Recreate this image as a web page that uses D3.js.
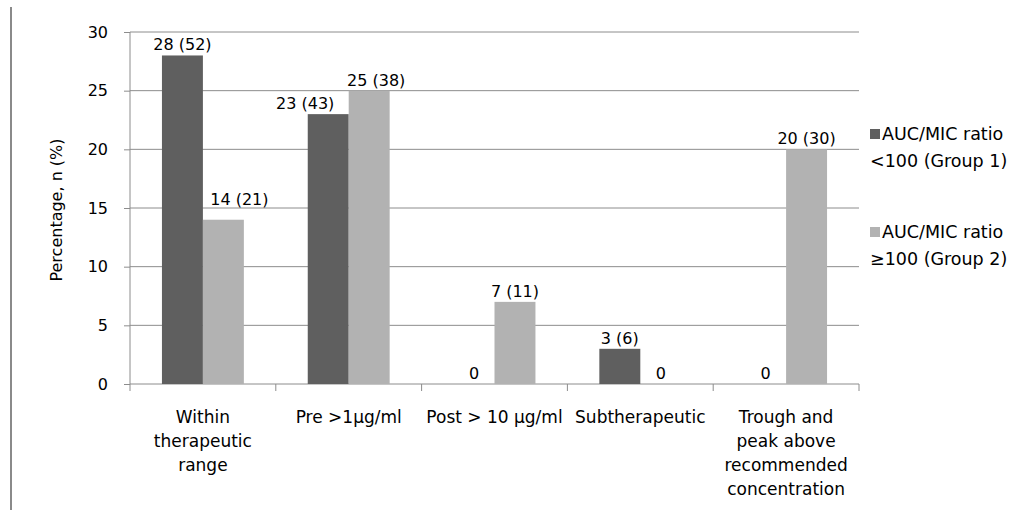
<!DOCTYPE html>
<html><head><meta charset="utf-8">
<script src="https://cdn.jsdelivr.net/npm/d3@7"></script>
<style>body{margin:0;background:#fff}svg text{font-family:"DejaVu Sans",sans-serif;fill:#000}</style>
</head><body><svg id="c" width="1022" height="515"></svg>
<script>
const categories = [["Within","therapeutic","range"],["Pre >1µg/ml"],["Post > 10 µg/ml"],["Subtherapeutic"],["Trough and","peak above","recommended","concentration"]];
const group1 = [28,23,0,3,0];
const group2 = [14,25,7,0,20];
const labels1 = ["28 (52)","23 (43)","0","3 (6)","0"];
const labels2 = ["14 (21)","25 (38)","7 (11)","0","20 (30)"];
const seriesNames = [["AUC/MIC ratio","<100 (Group 1)"],["AUC/MIC ratio","≥100 (Group 2)"]];
const colors = ["#5f5f5f","#b2b2b2"];
const yTicks = [0,5,10,15,20,25,30];
// label nudges (px) used to avoid overlap, as in the original
const nudge1 = [[0,0],[-23,0],[0,0],[0,0],[0,0]];
const nudge2 = [[16,-10],[7,0],[0,0],[0,0],[0,0]];

const svg = d3.select("#c");
const L=130,R=859,T=32,B=384;
svg.append("line").attr("x1",11).attr("x2",11).attr("y1",7).attr("y2",510).attr("stroke","#8a8a8a").attr("stroke-width",2);
const x = d3.scaleBand().domain(d3.range(categories.length)).range([L,R]);
const xs = d3.scaleBand().domain([0,1]).range([0,x.bandwidth()]).paddingOuter(0.78).paddingInner(0);
const y = d3.scaleLinear().domain([0,30]).range([B,T]);

// grid
svg.append("g").selectAll("line").data(yTicks.filter(d=>d>0)).join("line")
 .attr("x1",L).attr("x2",R).attr("y1",d=>y(d)).attr("y2",d=>y(d)).attr("stroke","#8c8c8c");
// y axis
const ya = svg.append("g").attr("transform",`translate(${L},0)`).call(d3.axisLeft(y).tickValues(yTicks).tickSize(6).tickPadding(16));
ya.selectAll(".tick line").attr("stroke","#8c8c8c");
ya.selectAll("text").style("font-size","16px").attr("fill","#000");
ya.select(".domain").attr("stroke","#8c8c8c").attr("d",`M0,${T}V${B}`);

// x axis
svg.append("line").attr("x1",L).attr("x2",R).attr("y1",B).attr("y2",B).attr("stroke","#8c8c8c");
svg.append("g").selectAll("line").data(d3.range(categories.length+1)).join("line")
 .attr("x1",d=>L+d*x.step()).attr("x2",d=>L+d*x.step()).attr("y1",B).attr("y2",B+7).attr("stroke","#8c8c8c");
categories.forEach((lines,i)=>{
  const t = svg.append("text").attr("text-anchor","middle").style("font-size","17px");
  lines.forEach((ln,j)=>t.append("tspan").attr("x",x(i)+x.bandwidth()/2).attr("y",423+j*24).text(ln));
});

// bars
const data = [group1,group2];
const labs = [labels1,labels2];
const nudges = [nudge1,nudge2];
data.forEach((s,k)=>{
  svg.append("g").selectAll("rect").data(s).join("rect")
   .attr("x",(d,i)=>x(i)+xs(k)).attr("width",xs.bandwidth())
   .attr("y",d=>y(d)).attr("height",d=>B-y(d)).attr("fill",colors[k]);
  svg.append("g").selectAll("text").data(s).join("text")
   .attr("x",(d,i)=>x(i)+xs(k)+xs.bandwidth()/2+nudges[k][i][0]).attr("y",(d,i)=>y(d)-5+nudges[k][i][1])
   .attr("text-anchor","middle").style("font-size","16px").text((d,i)=>labs[k][i]);
});

// y title
svg.append("text").attr("transform",`translate(62,${(T+B)/2+2}) rotate(-90)`).attr("text-anchor","middle")
 .style("font-size","16px").text("Percentage, n (%)");

// legend
seriesNames.forEach((nm,k)=>{
  const yy = 140+k*98;
  svg.append("rect").attr("x",870).attr("y",yy-11).attr("width",10).attr("height",10).attr("fill",colors[k]);
  const t = svg.append("text").style("font-size","17.5px");
  nm.forEach((ln,j)=>t.append("tspan").attr("x",j?870:882).attr("y",yy+j*27).text(ln));
});
</script></body></html>
